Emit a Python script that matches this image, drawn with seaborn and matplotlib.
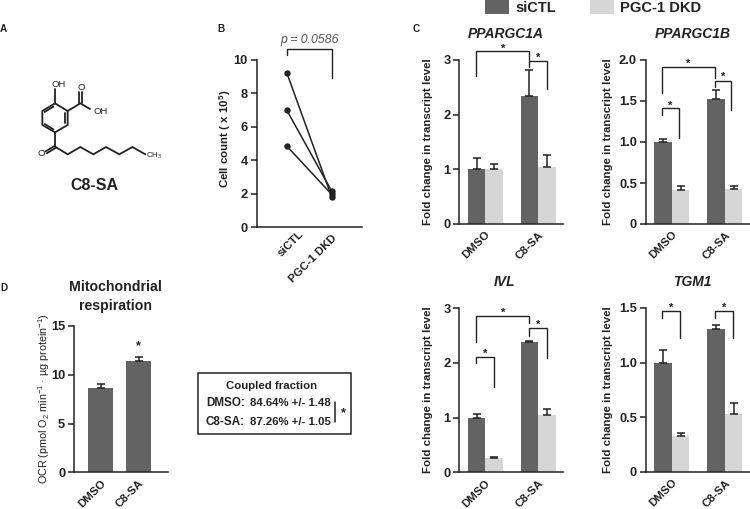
import pandas as pd
import seaborn as sns
import matplotlib.pyplot as plt
from matplotlib.patches import Rectangle
from matplotlib.transforms import ScaledTranslation

# Data
treatments = ['DMSO', 'C8-SA']
groups = ['siCTL', 'PGC-1 DKD']
genes = ['PPARGC1A', 'PPARGC1B', 'IVL', 'TGM1']
ctl_means = [[1.0, 2.35], [1.0, 1.53], [1.0, 2.38], [1.0, 1.31]]
ctl_errs = [[0.21, 0.46], [0.04, 0.10], [0.07, 0.03], [0.12, 0.03]]
dkd_means = [[1.0, 1.04], [0.42, 0.43], [0.26, 1.05], [0.33, 0.53]]
dkd_errs = [[0.10, 0.22], [0.04, 0.03], [0.02, 0.11], [0.03, 0.10]]
gene_ymax = [3, 2, 3, 1.5]
gene_ticks = [[0, 1, 2, 3], [0, 0.5, 1, 1.5, 2], [0, 1, 2, 3], [0, 0.5, 1, 1.5]]
gene_ticklabels = [['0', '1', '2', '3'], ['0', '0.5', '1.0', '1.5', '2.0'],
                   ['0', '1', '2', '3'], ['0', '0.5', '1.0', '1.5']]

cell_ctl = [9.25, 7.0, 4.85]
cell_dkd = [1.8, 2.15, 1.95]

ocr_means = [8.65, 11.4]
ocr_errs = [0.4, 0.45]

DARK = '#636363'
LIGHT = '#d6d6d6'
INK = '#222222'
W, H = 750, 509

sns.set_theme(style='ticks')
plt.rcParams['font.family'] = ['Liberation Sans', 'DejaVu Sans']
plt.rcParams['mathtext.default'] = 'regular'
plt.rcParams['axes.linewidth'] = 1.1
plt.rcParams['text.color'] = INK

fig = plt.figure(figsize=(7.5, 5.09), dpi=100)


def pixel_axes(left, top, right, bottom):
    return fig.add_axes([left / W, 1 - bottom / H, (right - left) / W, (bottom - top) / H])


def style_axis(ax, ymax, ticks, ticklabels, ylabel, label_x, size=9.3):
    ax.set_ylim(0, ymax)
    ax.set_yticks(ticks)
    ax.set_yticklabels(ticklabels, fontsize=size, fontweight='bold', color=INK)
    ax.set_xlabel('')
    ax.set_ylabel(ylabel, fontweight='bold', fontsize=8.25, color=INK)
    ax.yaxis.set_label_coords(label_x, 0.505)
    ax.tick_params(axis='y', length=4.3, width=1.1, pad=2, color=INK)
    ax.tick_params(axis='x', length=0, pad=4)
    for lab in ax.get_xticklabels():
        lab.set(rotation=45, ha='right', rotation_mode='anchor', fontsize=8.2,
                fontweight='bold', color=INK)
    sns.despine(ax=ax)
    for side in ['left', 'bottom']:
        ax.spines[side].set_color(INK)


def add_errors(ax, errs):
    for container, err in zip(ax.containers, errs):
        xs = [b.get_x() + b.get_width() / 2 for b in container]
        ys = [b.get_height() for b in container]
        ax.errorbar(xs, ys, yerr=[[0] * len(err), err], fmt='none', ecolor=INK,
                    elinewidth=1.1, capsize=2.9, capthick=1.1)


# Panel C
positions = [(459.3, 60, 563, 224), (645.7, 60, 750, 224),
             (459.3, 308.3, 563, 472.3), (645.7, 308, 750, 472)]
label_xs = [-0.254, -0.314, -0.254, -0.314]
for i, gene in enumerate(genes):
    left, top, right, bottom = positions[i]
    ax = pixel_axes(left, top, right, bottom)
    df = pd.DataFrame({
        'treatment': treatments * 2,
        'group': [groups[0]] * 2 + [groups[1]] * 2,
        'value': ctl_means[i] + dkd_means[i],
    })
    sns.barplot(data=df, x='treatment', y='value', hue='group', hue_order=groups,
                palette=[DARK, LIGHT], width=0.664, saturation=1, errorbar=None,
                legend=False, linewidth=0, ax=ax)
    add_errors(ax, [ctl_errs[i], dkd_errs[i]])
    ax.set_xlim(-0.493, 1.474)
    style_axis(ax, gene_ymax[i], gene_ticks[i], gene_ticklabels[i],
               'Fold change in transcript level', label_xs[i])

# Panel B
ax_b = pixel_axes(256.7, 60, 361.7, 227)
cells = pd.DataFrame({
    'group': [groups[0]] * 3 + [groups[1]] * 3,
    'count': cell_ctl + cell_dkd,
    'unit': [0, 1, 2, 0, 1, 2],
})
sns.lineplot(data=cells, x='group', y='count', units='unit', estimator=None, color=INK,
             linewidth=1.1, marker='o', markersize=4.6, markeredgewidth=0, ax=ax_b)
ax_b.set_xlim(-0.667, 1.667)
style_axis(ax_b, 10, [0, 2, 4, 6, 8, 10], ['0', '2', '4', '6', '8', '10'],
           'Cell count ( x 10$^{5}$)', -0.225)
ax_b.yaxis.set_label_coords(-0.225, 0.53)
# siCTL label sits further right in the original
sictl = ax_b.get_xticklabels()[0]
sictl.set_transform(sictl.get_transform() + ScaledTranslation(12 / 100, 4 / 100, fig.dpi_scale_trans))

# Panel D
ax_d = pixel_axes(74, 326, 168, 472.3)
sns.barplot(x=treatments, y=ocr_means, color=DARK, width=0.667, saturation=1,
            errorbar=None, linewidth=0, ax=ax_d)
add_errors(ax_d, [ocr_errs])
ax_d.set_xlim(-0.7, 1.77)
style_axis(ax_d, 15, [0, 5, 10, 15], ['0', '5', '10', '15'], '', -0.229)
ax_d.set_ylabel('OCR (pmol O$_2$ min$^{-1}$ · µg protein$^{-1}$)', fontsize=7.75,
                fontweight='medium', color=INK)
ax_d.yaxis.set_label_coords(-0.229, 0.5)

# Overlay in pixel coordinates for annotations and the structure
ov = fig.add_axes([0, 0, 1, 1], zorder=10)
ov.set_xlim(0, W)
ov.set_ylim(H, 0)
ov.axis('off')


def bracket(x0, y0, x1, ytop, y1, star_y=None):
    ov.plot([x0, x0, x1, x1], [y0, ytop, ytop, y1], color=INK, lw=1.0, solid_joinstyle='miter')
    if star_y is not None:
        ov.text((x0 + x1) / 2, star_y, '*', ha='center', va='center', fontsize=8, fontweight='bold')


bracket(476.3, 76, 529.3, 50.7, 60, 48.5)
bracket(529.3, 66.7, 546.7, 60.7, 89.3, 58)
bracket(662, 93.3, 715, 67, 78.3, 63.5)
bracket(715, 87.3, 731, 80.7, 110, 77)
bracket(662, 115, 679.3, 108.3, 137.7, 105.5)
bracket(476.3, 341.7, 529.3, 315.7, 323.3, 313)
bracket(529.3, 336, 546.7, 328.3, 358.3, 325)
bracket(476.3, 363.3, 494, 357, 386.7, 354)
bracket(662, 318.3, 680, 310.7, 338.3, 308)
bracket(714.7, 318.3, 732.7, 310.7, 338.3, 308)
bracket(286.7, 55, 331.7, 48.7, 78.3)
ov.text(309.7, 40, 'p = 0.0586', ha='center', va='center', fontsize=8.8, style='italic', color='#555555')

# Legend
ov.add_patch(Rectangle((485, 0), 24, 14, color=DARK, lw=0))
ov.add_patch(Rectangle((590, 0), 24, 14, color=LIGHT, lw=0))
ov.text(515, 7.5, groups[0], va='center', fontsize=10.5, fontweight='bold')
ov.text(620, 7.5, groups[1], va='center', fontsize=10.6, fontweight='bold')

# Panel letters
for label, x, y in [('A', 3.5, 29), ('B', 221, 29), ('C', 415.7, 29), ('D', 4, 288)]:
    ov.text(x, y, label, ha='center', va='center', fontsize=7.2, fontweight='bold')

# Titles
title_pos = [(506, 34), (692.5, 34), (505, 281.5), (692, 281.5)]
for gene, (x, y) in zip(genes, title_pos):
    ov.text(x, y, gene, ha='center', va='center', fontsize=10, fontweight='bold', style='italic')
ov.text(115.5, 287, 'Mitochondrial', ha='center', va='center', fontsize=10.2, fontweight='bold')
ov.text(115.5, 306, 'respiration', ha='center', va='center', fontsize=10.2, fontweight='bold')
ov.text(138.3, 346, '*', ha='center', va='center', fontsize=9, fontweight='bold')

# Coupled fraction box
ov.add_patch(Rectangle((198.3, 372.7), 152.4, 61.3, fill=False, ec=INK, lw=1.1))
ov.text(271.7, 386, 'Coupled fraction', ha='center', va='center', fontsize=8.2, fontweight='bold')
ov.text(245, 403, 'DMSO:', ha='right', va='center', fontsize=8.4, fontweight='bold')
ov.text(245, 421.7, 'C8-SA:', ha='right', va='center', fontsize=8.4, fontweight='bold')
ov.text(250, 403, '84.64% +/- 1.48', ha='left', va='center', fontsize=8.2, fontweight='bold')
ov.text(250, 421.7, '87.26% +/- 1.05', ha='left', va='center', fontsize=8.2, fontweight='bold')
ov.plot([335.3, 335.3], [402, 421.7], color=INK, lw=1.1)
ov.text(343.3, 413, '*', ha='center', va='center', fontsize=9, fontweight='bold')


# C8-SA structure
def bond(*pts, lw=1.3):
    xs = [p[0] / 3 for p in pts]
    ys = [p[1] / 3 for p in pts]
    ov.plot(xs, ys, color=INK, lw=lw, solid_joinstyle='miter')


bond((165, 310), (203, 333), (203, 375), (165, 397), (127, 375), (127, 333), (165, 310))
bond((160, 320), (134, 336))
bond((196, 338), (196, 370))
bond((160, 388), (134, 372))
bond((165, 310), (165, 268))
bond((203, 333), (241, 310), (270, 327))
bond((238, 310), (238, 277))
bond((245, 310), (245, 277))
bond((165, 397), (165, 440), (203, 463), (241, 441), (280, 463), (318, 441), (358, 463), (397, 441), (436, 463))
bond((165, 437), (137, 454))
bond((168, 443), (140, 460))
for txt, x, y, fs in [('OH', 175, 252, 6.8), ('O', 243, 263, 6.8), ('OH', 302, 333, 6.8),
                      ('O', 124, 462, 6.8), ('CH$_3$', 461, 468, 5.6)]:
    ov.text(x / 3, y / 3, txt, ha='center', va='center', fontsize=fs)
ov.text(94, 186, 'C8-SA', ha='center', va='center', fontsize=11.5, fontweight='bold')

plt.savefig('out.png', dpi=100)
